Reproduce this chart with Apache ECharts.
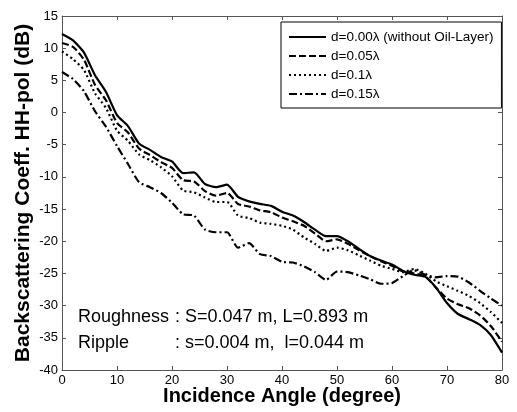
<!DOCTYPE html>
<html style="height: 100%">
<head>
	<meta charset="utf-8">
</head>
<body style="height: 100%; margin: 0; background: #fff">
	<div id="container" style="width: 517px; height: 412px"></div>
	<script type="text/javascript" src="https://cdn.jsdelivr.net/npm/echarts@6/dist/echarts.min.js"></script>
	<script type="text/javascript">
		// incidence angle, every 2 degrees
		let angles = [0, 2, 4, 6, 8, 10, 12, 14, 16, 18, 20, 22, 24, 26, 28, 30, 32, 34, 36, 38, 40,
			42, 44, 46, 48, 50, 52, 54, 56, 58, 60, 62, 64, 66, 68, 70, 72, 74, 76, 78, 80];

		let seriesNames = ['d=0.00λ (without Oil-Layer)', 'd=0.05λ', 'd=0.1λ', 'd=0.15λ'];

		let d000 = [12.2, 11.2, 9.3, 5.8, 3.2, -0.4, -2.1, -4.8, -5.8, -6.9, -7.6, -9.4, -9.3, -11.1, -11.6, -11.2,
			-13.1, -13.8, -14.2, -14.5, -15.4, -16.0, -17.0, -18.2, -19.2, -19.2, -20.0, -21.2, -22.3, -23.0,
			-23.6, -24.6, -25.2, -25.5, -27.2, -29.6, -31.3, -32.1, -33.0, -34.6, -37.3];
		let d005 = [10.8, 10.2, 8.2, 4.3, 1.9, -1.6, -3.1, -5.6, -6.6, -7.7, -8.6, -10.5, -10.7, -12.2, -12.9, -12.5,
			-14.2, -14.6, -15.2, -15.5, -16.3, -16.9, -17.6, -18.8, -20.0, -19.7, -20.4, -21.4, -22.3, -23.1,
			-23.8, -24.7, -25.0, -25.4, -27.2, -28.9, -29.8, -30.4, -31.5, -33.2, -35.6];
		let d010 = [9.5, 8.3, 6.6, 3.0, 0.7, -2.8, -4.4, -6.5, -7.4, -8.5, -9.9, -12.1, -12.4, -13.2, -13.9, -13.9,
			-16.0, -16.4, -17.1, -17.3, -17.6, -18.2, -19.4, -20.4, -21.5, -21.0, -21.4, -22.2, -23.0, -23.8,
			-24.3, -24.8, -24.3, -25.0, -26.2, -27.0, -27.7, -28.5, -29.6, -31.0, -32.7];
		let d015 = [6.3, 5.2, 3.3, 0.2, -2.2, -5.2, -8.0, -10.8, -11.6, -12.5, -14.0, -15.8, -16.0, -18.2, -18.6, -18.6,
			-21.0, -20.3, -22.0, -22.3, -23.2, -23.3, -23.9, -24.8, -26.0, -24.7, -24.8, -25.3, -25.9, -26.6,
			-26.5, -25.4, -24.5, -25.2, -25.6, -25.4, -25.5, -26.4, -27.7, -28.9, -30.0];

		let lineTypes = ['solid', [7, 3], [2, 3], [8, 3, 2, 3]];

		let dom = document.getElementById("container");
		let myChart = echarts.init(dom, null, { renderer: 'canvas' });

		function pairs(values) {
			return angles.map(function (a, i) { return [a, values[i]]; });
		}

		let allValues = [d000, d005, d010, d015];
		let series = allValues.map(function (vals, i) {
			return {
				name: seriesNames[i],
				type: 'line',
				data: pairs(vals),
				symbol: 'none',
				smooth: 0.2,
				animation: false,
				itemStyle: { color: '#000' },
				lineStyle: { color: '#000', width: 2.2, type: lineTypes[i] }
			};
		});

		let font = 'Liberation Sans, Arial, sans-serif';
		let tickStyle = { show: true, inside: true, length: 4, lineStyle: { color: '#555' } };
		let noteStyle = { fontSize: 18, fontFamily: font, fill: '#000', verticalAlign: 'middle' };

		let option = {
			backgroundColor: '#fff',
			animation: false,
			grid: { left: 62, right: 15, top: 16, bottom: 42, outerBoundsMode: 'none', containLabel: false },
			legend: {
				orient: 'vertical',
				left: 281,
				top: 22,
				width: 219,
				itemWidth: 37,
				itemHeight: 13,
				itemGap: 5,
				padding: [8, 8, 7, 7],
				borderColor: '#000',
				borderWidth: 1,
				backgroundColor: '#fff',
				itemStyle: { opacity: 0 },
				textStyle: { color: '#000', fontSize: 13.5, fontFamily: font },
				data: seriesNames
			},
			xAxis: [
				{
					type: 'value', min: 0, max: 80, interval: 10,
					name: 'Incidence Angle (degree)', nameLocation: 'middle', nameGap: 16, nameMoveOverlap: false,
					nameTextStyle: { fontSize: 20, fontWeight: 'bold', color: '#000', fontFamily: font },
					axisLine: { show: true, onZero: false, lineStyle: { color: '#555' } },
					axisTick: tickStyle,
					axisLabel: { color: '#000', fontSize: 13, fontFamily: font, margin: 4 },
					splitLine: { show: false }
				},
				{
					type: 'value', min: 0, max: 80, interval: 10, position: 'top',
					axisLine: { show: true, onZero: false, lineStyle: { color: '#555' } },
					axisTick: tickStyle,
					axisLabel: { show: false },
					splitLine: { show: false }
				}
			],
			yAxis: [
				{
					type: 'value', min: -40, max: 15, interval: 5,
					name: 'Backscattering Coeff. HH-pol (dB)', nameLocation: 'middle', nameGap: 28, nameMoveOverlap: false,
					nameTextStyle: { fontSize: 21, fontWeight: 'bold', color: '#000', fontFamily: font },
					axisLine: { show: true, onZero: false, lineStyle: { color: '#555' } },
					axisTick: tickStyle,
					axisLabel: { color: '#000', fontSize: 13, fontFamily: font, margin: 4 },
					splitLine: { show: false }
				},
				{
					type: 'value', min: -40, max: 15, interval: 5, position: 'right',
					axisLine: { show: true, onZero: false, lineStyle: { color: '#555' } },
					axisTick: tickStyle,
					axisLabel: { show: false },
					splitLine: { show: false }
				}
			],
			graphic: [
				{ type: 'text', x: 78, y: 317, style: Object.assign({ text: 'Roughness' }, noteStyle) },
				{ type: 'text', x: 175, y: 317, style: Object.assign({ text: ': S=0.047 m, L=0.893 m' }, noteStyle) },
				{ type: 'text', x: 78, y: 343, style: Object.assign({ text: 'Ripple' }, noteStyle) },
				{ type: 'text', x: 175, y: 343, style: Object.assign({ text: ': s=0.004 m,  l=0.044 m' }, noteStyle) }
			],
			series: series
		};

		myChart.setOption(option);
	</script>
</body>
</html>
